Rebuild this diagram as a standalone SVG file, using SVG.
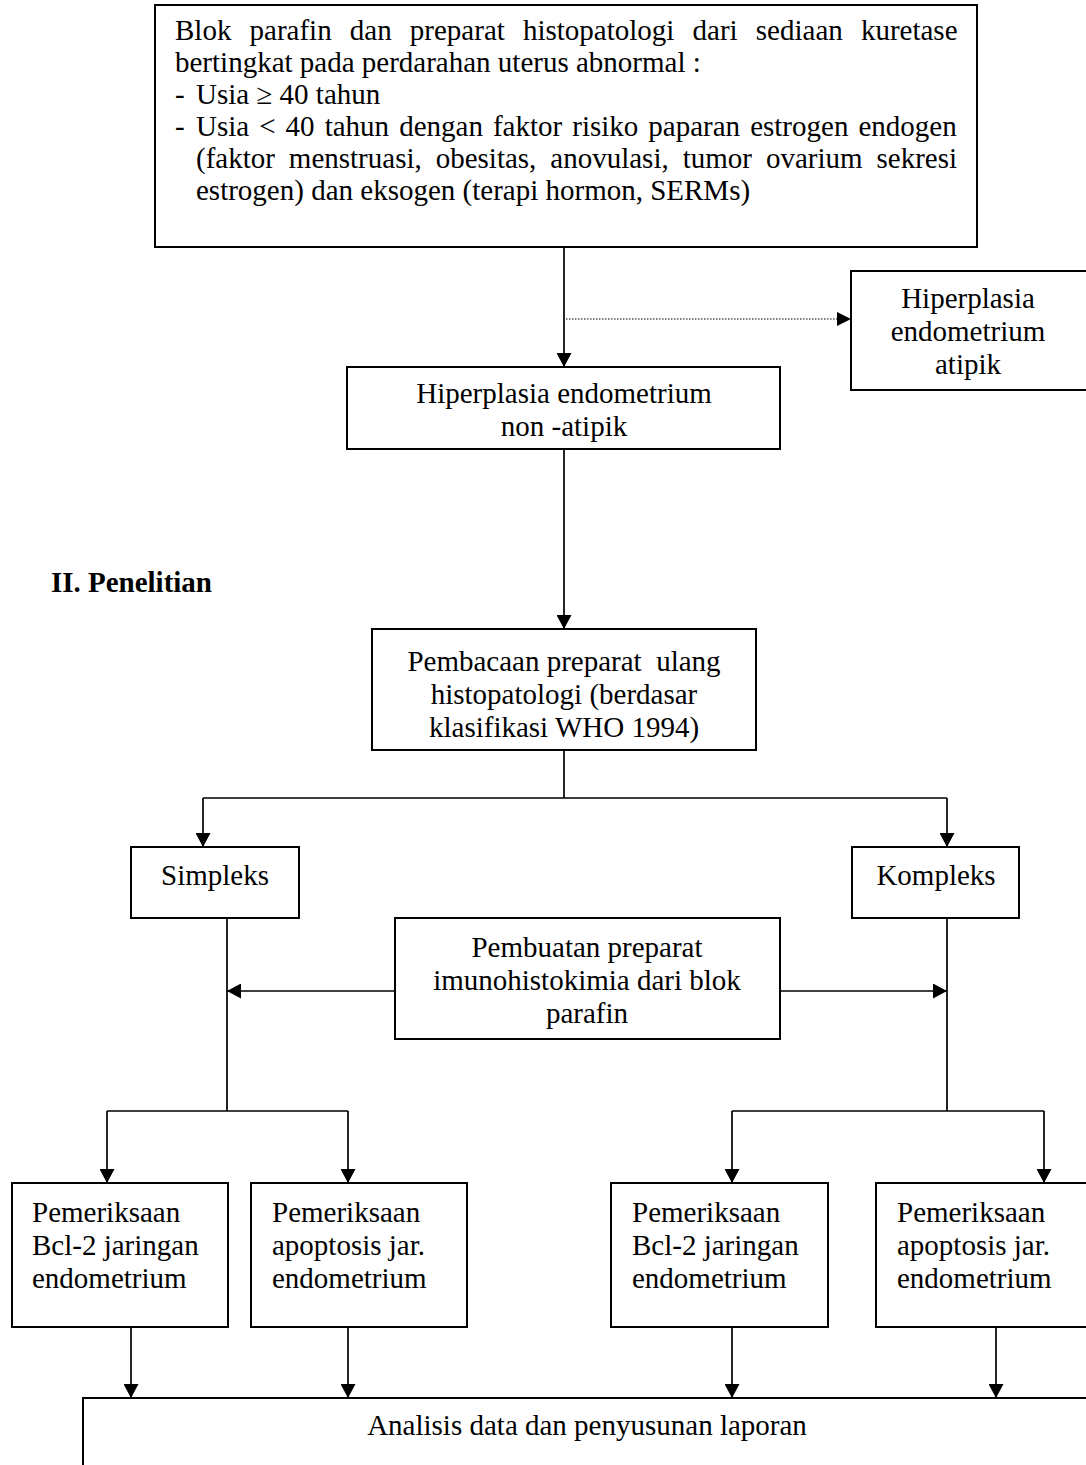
<svg xmlns="http://www.w3.org/2000/svg" width="1086" height="1465" viewBox="0 0 1086 1465">
  <style>
    .box { fill: #fff; stroke: #000; stroke-width: 2; }
    .t { font-family: "Liberation Serif", "Times New Roman", serif; font-size: 29px; fill: #000; }
    .c { text-anchor: middle; }
    .h { font-weight: bold; }
    .ln { fill: none; stroke: #000; stroke-width: 1.7; }
    .arr { marker-end: url(#head); }
    .dot { fill: none; stroke: #000; stroke-width: 1.2; stroke-dasharray: 1.5 1.5; }
  </style>
  <defs>
    <marker id="head" markerUnits="userSpaceOnUse" viewBox="0 0 14 15" refX="14" refY="7.5" markerWidth="14" markerHeight="15" orient="auto">
      <path d="M0,0 L14,7.5 L0,15 Z" fill="#000"/>
    </marker>
  </defs>

  <rect width="1086" height="1465" fill="#fff"/>

  <!-- connectors -->
  <g id="connectors">
    <path class="ln arr" d="M564,247 V367"/>
    <path class="dot" d="M566,319 H838"/>
    <path d="M837,312 L851,319 L837,326 Z" fill="#000"/>
    <path class="ln arr" d="M564,449 V629"/>
    <path class="ln" d="M564,750 V798 M203,798 H947"/>
    <path class="ln arr" d="M203,798 V847"/>
    <path class="ln arr" d="M947,798 V847"/>
    <path class="ln" d="M227,918 V1111 M107,1111 H348"/>
    <path class="ln" d="M947,918 V1111 M732,1111 H1044"/>
    <path class="ln arr" d="M395,991 H227"/>
    <path class="ln arr" d="M780,991 H947"/>
    <path class="ln arr" d="M107,1111 V1183"/>
    <path class="ln arr" d="M348,1111 V1183"/>
    <path class="ln arr" d="M732,1111 V1183"/>
    <path class="ln arr" d="M1044,1111 V1183"/>
    <path class="ln arr" d="M131,1327 V1398"/>
    <path class="ln arr" d="M348,1327 V1398"/>
    <path class="ln arr" d="M732,1327 V1398"/>
    <path class="ln arr" d="M996,1327 V1398"/>
  </g>

  <!-- source material -->
  <g id="sumber">
    <rect class="box" x="155" y="5" width="822" height="242"/>
    <text class="t" x="175" y="40" word-spacing="10.9">Blok parafin dan preparat histopatologi dari sediaan kuretase</text>
    <text class="t" x="175" y="72">bertingkat pada perdarahan uterus abnormal :</text>
    <text class="t" x="175" y="104">-</text>
    <text class="t" x="196" y="104">Usia ≥ 40 tahun</text>
    <text class="t" x="175" y="136">-</text>
    <text class="t" x="196" y="136" word-spacing="2.8">Usia &lt; 40 tahun dengan faktor risiko paparan estrogen endogen</text>
    <text class="t" x="196" y="168" word-spacing="6.7">(faktor menstruasi, obesitas, anovulasi, tumor ovarium sekresi</text>
    <text class="t" x="196" y="200">estrogen) dan eksogen (terapi hormon, SERMs)</text>
  </g>

  <g id="atipik">
    <rect class="box" x="851" y="271" width="240" height="119"/>
    <text class="t c" x="968" y="308">Hiperplasia</text>
    <text class="t c" x="968" y="341">endometrium</text>
    <text class="t c" x="968" y="374">atipik</text>
  </g>

  <g id="non-atipik">
    <rect class="box" x="347" y="367" width="433" height="82"/>
    <text class="t c" x="564" y="403">Hiperplasia endometrium</text>
    <text class="t c" x="564" y="436">non -atipik</text>
  </g>

  <g id="judul-penelitian">
    <text class="t h" x="212" y="592" text-anchor="end">II. Penelitian</text>
  </g>

  <g id="pembacaan">
    <rect class="box" x="372" y="629" width="384" height="121"/>
    <text class="t c" x="564" y="671" xml:space="preserve">Pembacaan preparat  ulang</text>
    <text class="t c" x="564" y="704">histopatologi (berdasar</text>
    <text class="t c" x="564" y="737">klasifikasi WHO 1994)</text>
  </g>

  <g id="simpleks">
    <rect class="box" x="131" y="847" width="168" height="71"/>
    <text class="t c" x="215" y="885">Simpleks</text>
  </g>

  <g id="kompleks">
    <rect class="box" x="852" y="847" width="167" height="71"/>
    <text class="t c" x="936" y="885">Kompleks</text>
  </g>

  <g id="pembuatan">
    <rect class="box" x="395" y="918" width="385" height="121"/>
    <text class="t c" x="587" y="957">Pembuatan preparat</text>
    <text class="t c" x="587" y="990">imunohistokimia dari blok</text>
    <text class="t c" x="587" y="1023">parafin</text>
  </g>

  <g id="bcl2-simpleks">
    <rect class="box" x="12" y="1183" width="216" height="144"/>
    <text class="t" x="32" y="1222">Pemeriksaan</text>
    <text class="t" x="32" y="1255">Bcl-2 jaringan</text>
    <text class="t" x="32" y="1288">endometrium</text>
  </g>

  <g id="apoptosis-simpleks">
    <rect class="box" x="251" y="1183" width="216" height="144"/>
    <text class="t" x="272" y="1222">Pemeriksaan</text>
    <text class="t" x="272" y="1255">apoptosis jar.</text>
    <text class="t" x="272" y="1288">endometrium</text>
  </g>

  <g id="bcl2-kompleks">
    <rect class="box" x="611" y="1183" width="217" height="144"/>
    <text class="t" x="632" y="1222">Pemeriksaan</text>
    <text class="t" x="632" y="1255">Bcl-2 jaringan</text>
    <text class="t" x="632" y="1288">endometrium</text>
  </g>

  <g id="apoptosis-kompleks">
    <rect class="box" x="876" y="1183" width="220" height="144"/>
    <text class="t" x="897" y="1222">Pemeriksaan</text>
    <text class="t" x="897" y="1255">apoptosis jar.</text>
    <text class="t" x="897" y="1288">endometrium</text>
  </g>

  <g id="analisis">
    <rect class="box" x="83" y="1398" width="1020" height="90"/>
    <text class="t c" x="587" y="1435">Analisis data dan penyusunan laporan</text>
  </g>
</svg>
